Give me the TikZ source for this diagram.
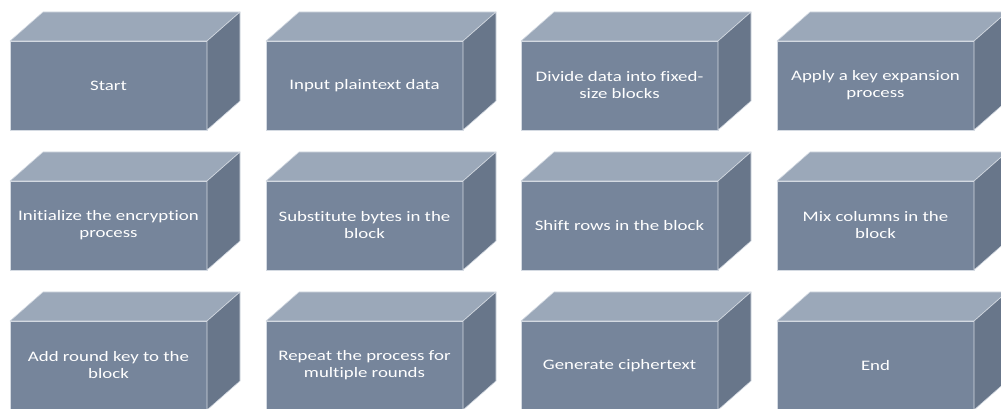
\documentclass[tikz,border=0pt]{standalone}
\usepackage{fontspec}
\setmainfont{Carlito}[FakeStretch=1.3,Ligatures=NoCommon]
\definecolor{frontc}{HTML}{76859B}
\definecolor{topc}{HTML}{9BA8B9}
\definecolor{sidec}{HTML}{68768A}
\definecolor{edgec}{HTML}{D4DAE2}
\tikzset{
  front/.style={fill=frontc, draw=edgec, line width=0.6pt, minimum width=197pt,
    minimum height=89pt, inner sep=0pt, outer sep=0pt, anchor=north west,
    text=white, align=center, font=\fontsize{14.5}{17}\selectfont},
  topface/.style={fill=topc, draw=edgec, line width=0.6pt, line join=round},
  sideface/.style={fill=sidec, draw=edgec, line width=0.6pt, line join=round}
}
\begin{document}
\begin{tikzpicture}[x=1pt,y=1pt]
\useasboundingbox (0,0) rectangle (1001,409);
\clip (0,0) rectangle (1001,409);
\foreach \i/\x/\y/\t in {
  1/10/368/{Start},
  2/266/368/{Input plaintext data},
  3/521/368/{Divide data into fixed-\\size blocks},
  4/777/368/{Apply a key expansion\\process},
  5/10/228/{Initialize the encryption\\process},
  6/266/228/{Substitute bytes in the\\block},
  7/521/228/{Shift rows in the block},
  8/777/228/{Mix columns in the\\block},
  9/10/88/{Add round key to the\\block},
  10/266/88/{Repeat the process for\\multiple rounds},
  11/521/88/{Generate ciphertext},
  12/777/88/{End}}{
  \node[front] (b\i) at (\x,\y) {\t};
  \filldraw[topface] (b\i.north west) -- ++(33,29) -- ++(197,0) -- (b\i.north east) -- cycle;
  \filldraw[sideface] (b\i.north east) -- ++(33,29) -- ++(0,-89) -- (b\i.south east) -- cycle;
}
\end{tikzpicture}
\end{document}
